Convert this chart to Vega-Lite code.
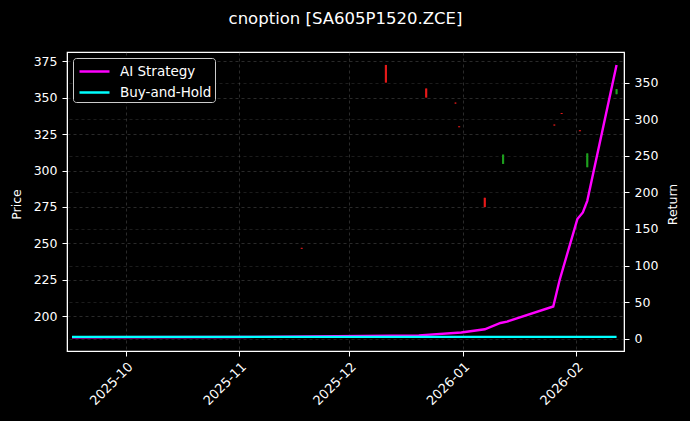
{
  "$schema": "https://vega.github.io/schema/vega-lite/v6.json",
  "width": 557,
  "height": 299,
  "autosize": {"type": "none"},
  "padding": {"left": 67, "top": 52, "right": 66, "bottom": 70},
  "background": "black",
  "title": {
    "text": "cnoption [SA605P1520.ZCE]",
    "fontSize": 16.5,
    "fontWeight": "normal",
    "color": "white",
    "offset": 25
  },
  "datasets": {
    "candles": [
      {"date": "2025-11-18", "open": 246.9, "high": 246.9, "low": 246.3, "close": 246.3},
      {"date": "2025-12-11", "open": 372.6, "high": 372.6, "low": 360.5, "close": 360.5},
      {"date": "2025-12-22", "open": 356.4, "high": 356.4, "low": 350.2, "close": 350.2},
      {"date": "2025-12-30", "open": 346.7, "high": 346.7, "low": 346.1, "close": 346.1},
      {"date": "2025-12-31", "open": 330.4, "high": 330.4, "low": 329.8, "close": 329.8},
      {"date": "2026-01-07", "open": 281.3, "high": 281.3, "low": 274.9, "close": 274.9},
      {"date": "2026-01-12", "open": 304.6, "high": 311.0, "low": 304.6, "close": 311.0},
      {"date": "2026-01-26", "open": 331.6, "high": 331.6, "low": 331.0, "close": 331.0},
      {"date": "2026-01-28", "open": 339.5, "high": 339.5, "low": 338.9, "close": 338.9},
      {"date": "2026-02-02", "open": 327.7, "high": 327.7, "low": 327.1, "close": 327.1},
      {"date": "2026-02-04", "open": 302.3, "high": 311.8, "low": 302.3, "close": 311.8},
      {"date": "2026-02-12", "open": 352.5, "high": 356.0, "low": 352.5, "close": 356.0}
    ],
    "returns": [
      {"date": "2025-09-16T06:00:00Z", "series": "AI Strategy", "value": 2.0},
      {"date": "2025-11-01T00:00:00Z", "series": "AI Strategy", "value": 2.3},
      {"date": "2025-11-20T00:00:00Z", "series": "AI Strategy", "value": 3.0},
      {"date": "2025-12-20T00:00:00Z", "series": "AI Strategy", "value": 4.5},
      {"date": "2025-12-31T14:00:00Z", "series": "AI Strategy", "value": 8.4},
      {"date": "2026-01-07T00:00:00Z", "series": "AI Strategy", "value": 12.9},
      {"date": "2026-01-11T07:00:00Z", "series": "AI Strategy", "value": 21.5},
      {"date": "2026-01-13T02:00:00Z", "series": "AI Strategy", "value": 23.4},
      {"date": "2026-01-25T17:00:00Z", "series": "AI Strategy", "value": 44.0},
      {"date": "2026-01-27T10:00:00Z", "series": "AI Strategy", "value": 79.6},
      {"date": "2026-02-01T07:00:00Z", "series": "AI Strategy", "value": 163.5},
      {"date": "2026-02-02T19:00:00Z", "series": "AI Strategy", "value": 172.5},
      {"date": "2026-02-04T00:00:00Z", "series": "AI Strategy", "value": 188.4},
      {"date": "2026-02-12T00:00:00Z", "series": "AI Strategy", "value": 374.0},
      {"date": "2025-09-16T06:00:00Z", "series": "Buy-and-Hold", "value": 2.5},
      {"date": "2026-02-12T00:00:00Z", "series": "Buy-and-Hold", "value": 2.5}
    ]
  },
  "layer": [
    {
      "data": {"name": "candles"},
      "encoding": {
        "x": {
          "field": "date",
          "type": "temporal",
          "scale": {
            "type": "utc",
            "domain": [
              {"year": 2025, "month": 9, "date": 16, "hours": 6, "utc": true},
              {"year": 2026, "month": 2, "date": 12, "hours": 16, "utc": true}
            ]
          },
          "axis": {
            "title": null,
            "labelExpr": "utcFormat(datum.value, '%Y-%m')",
            "tickCount": {"interval": "month", "step": 1},
            "labelAngle": -45,
            "labelAlign": "right",
            "labelBaseline": "top",
            "labelFontSize": 13,
            "labelPadding": 4
          }
        },
        "color": {
          "condition": {"test": "datum.close >= datum.open", "value": "#1fa51f"},
          "value": "#ee1b1b"
        }
      },
      "layer": [
        {
          "mark": {"type": "rule", "strokeWidth": 1},
          "encoding": {
            "y": {
              "field": "low",
              "type": "quantitative",
              "scale": {"domain": [176, 381.5], "nice": false, "zero": false},
              "axis": {
                "title": "Price",
                "grid": true,
                "values": [200, 225, 250, 275, 300, 325, 350, 375],
                "titleX": -51,
                "titleY": 152,
                "titleAngle": 270,
                "titleBaseline": "middle",
                "titleAlign": "center"
              }
            },
            "y2": {"field": "high"}
          }
        },
        {
          "mark": {"type": "bar", "size": 2.2, "opacity": 0.9},
          "encoding": {
            "y": {"field": "open", "type": "quantitative"},
            "y2": {"field": "close"}
          }
        }
      ]
    },
    {
      "data": {"name": "returns"},
      "mark": {"type": "line", "strokeWidth": 2.4},
      "encoding": {
        "x": {"field": "date", "type": "temporal"},
        "y": {
          "field": "value",
          "type": "quantitative",
          "scale": {"domain": [-16.8, 391.8], "nice": false, "zero": false},
          "axis": {
            "orient": "right",
            "title": "Return",
            "grid": true,
            "gridOpacity": 0.4,
            "values": [0, 50, 100, 150, 200, 250, 300, 350],
            "titleX": 48,
            "titleY": 152,
            "titleAngle": 270,
            "titleBaseline": "middle",
            "titleAlign": "center"
          }
        },
        "color": {
          "field": "series",
          "type": "nominal",
          "scale": {"domain": ["AI Strategy", "Buy-and-Hold"], "range": ["#ff00ff", "#00ffff"]},
          "legend": {
            "title": null,
            "orient": "top-left",
            "offset": 6,
            "fillColor": "black",
            "strokeColor": "#cccccc",
            "cornerRadius": 3,
            "padding": 3,
            "symbolType": "M-1.667,0H1.667",
            "symbolSize": 324,
            "symbolOffset": 8,
            "symbolStrokeWidth": 2.5,
            "labelFontSize": 13.5,
            "labelColor": "white",
            "labelOffset": 15,
            "rowPadding": 4
          }
        }
      }
    }
  ],
  "resolve": {"scale": {"y": "independent"}},
  "config": {
    "font": "DejaVu Sans",
    "view": {"stroke": "white", "strokeWidth": 1.2},
    "axis": {
      "domainColor": "white",
      "tickColor": "white",
      "tickSize": 5,
      "labelColor": "white",
      "labelFontSize": 12.5,
      "labelPadding": 5,
      "titleColor": "white",
      "titleFontSize": 12.5,
      "titleFontWeight": "normal",
      "grid": true,
      "gridColor": "#777777",
      "gridDash": [3, 3],
      "gridWidth": 0.6,
      "gridOpacity": 0.6
    },
    "legend": {"labelFont": "DejaVu Sans"}
  }
}
